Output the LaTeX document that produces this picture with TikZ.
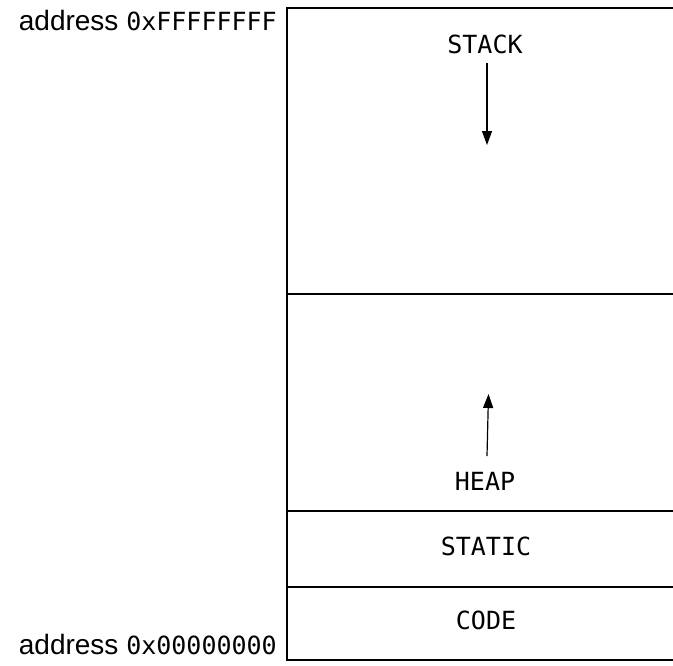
\documentclass[tikz,border=0pt]{standalone}
\usepackage{fontspec}
\setmainfont{Liberation Sans}
\newfontfamily\monof{DejaVu Sans Mono}
\usetikzlibrary{arrows.meta}
\begin{document}
\begin{tikzpicture}[x=1pt,y=-1pt,
  region/.style={draw=black,line width=1.6pt},
  seglabel/.style={inner sep=0pt,font=\monof\fontsize{25}{29}\selectfont},
  addrlabel/.style={inner sep=0pt,anchor=base east,font=\fontsize{28}{32}\selectfont},
  addrmono/.style={font=\monof\fontsize{25}{29}\selectfont},
  growarrow/.style={line width=1.2pt,-{Triangle[width=10pt,length=14pt]}}]
\useasboundingbox (0,0) rectangle (673,665);
\clip (0,0) rectangle (673,665);
\fill[white] (0,0) rectangle (673,665);
% memory regions
\draw[region] (690,8) -- (287,8) -- (287,660) -- (690,660);
\draw[region] (287,294) -- (690,294);
\draw[region] (287,511) -- (690,511);
\draw[region] (287,587) -- (690,587);
% labels
\node[seglabel] (stack) at (485,44) {STACK};
\node[seglabel] (heap) at (485,481) {HEAP};
\node[seglabel] (static) at (486,546) {STATIC};
\node[seglabel] (code) at (486,620) {CODE};
\node[addrlabel] (top) at (277,30) {address {\monof\fontsize{25}{29}\selectfont 0xFFFFFFFF}};
\node[addrlabel] (bot) at (277,654) {address {\monof\fontsize{25}{29}\selectfont 0x00000000}};
% arrows
\coordinate (s1) at (487,63);
\coordinate (s2) at (487,145);
\coordinate (h1) at (487,456);
\coordinate (h2) at (488.5,394);
\draw[growarrow] (s1) -- (s2);
\draw[growarrow] (h1) -- (h2);
\end{tikzpicture}
\end{document}
